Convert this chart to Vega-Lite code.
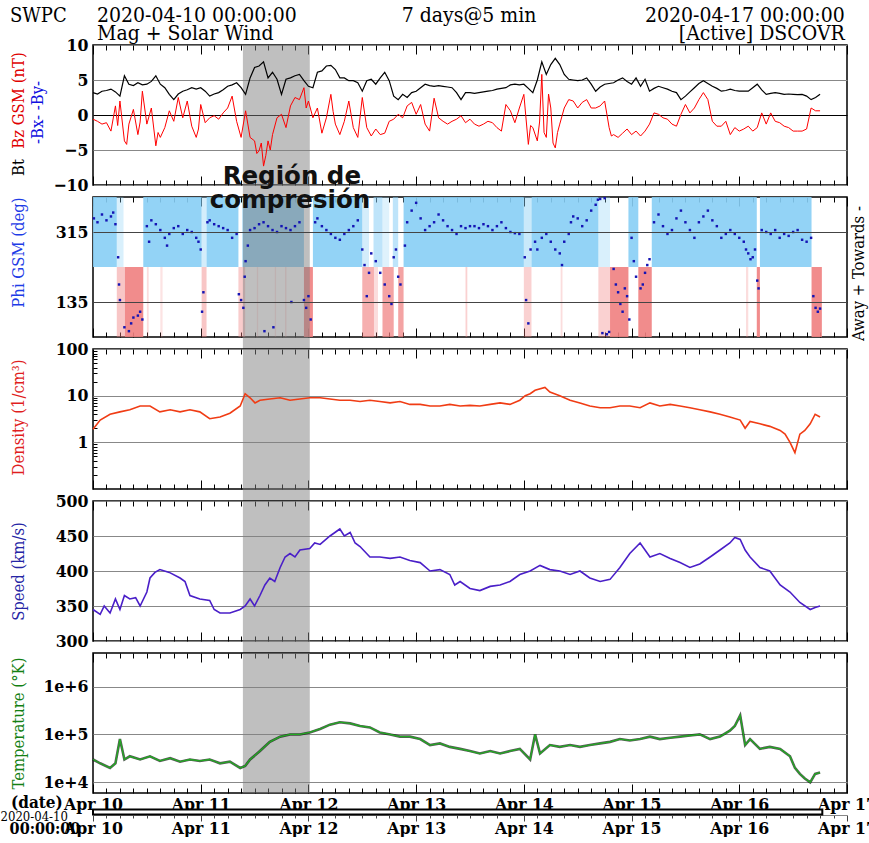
{
"$schema": "https://vega.github.io/schema/vega-lite/v6.json",
"background": "white",
"padding": {"left": 0, "top": 4, "right": 0, "bottom": 0},
"bounds": "flush",
"spacing": 12,
"config": {
 "view": {"stroke": "#000", "strokeWidth": 1.5},
 "axis": {"labelFont": "DejaVu Serif Condensed, DejaVu Serif, serif", "labelFontSize": 17.5, "labelFontWeight": "bold", "labelColor": "#000", "titleFont": "DejaVu Serif Condensed, DejaVu Serif, serif", "titleFontSize": 16.5, "titleFontWeight": "normal", "tickColor": "#000", "gridColor": "#888", "gridWidth": 1},
 "text": {"font": "DejaVu Serif Condensed, DejaVu Serif, serif"}
},
"datasets": {
 "gray": [{"h0": 33.4, "h1": 48.3}],
 "cov": [{"h0": 0, "h1": 162.5}],
 "bt": [{"h":0,"v":3.2},{"h":1,"v":3.0},{"h":2,"v":3.4},{"h":3,"v":3.5},{"h":4,"v":3.7},{"h":5,"v":3.3},{"h":6,"v":2.7},{"h":7,"v":5.6},{"h":8,"v":4.4},{"h":9,"v":4.2},{"h":10,"v":4.6},{"h":11,"v":4.3},{"h":12,"v":4.4},{"h":13,"v":4.8},{"h":14,"v":5.6},{"h":15,"v":4.4},{"h":16,"v":3.9},{"h":17,"v":2.95},{"h":18,"v":2.2},{"h":19,"v":3.0},{"h":20,"v":3.4},{"h":21,"v":3.6},{"h":22,"v":3.9},{"h":23,"v":3.7},{"h":24,"v":3.9},{"h":25,"v":3.4},{"h":26,"v":2.7},{"h":27,"v":3.0},{"h":28,"v":3.2},{"h":29,"v":3.6},{"h":30,"v":4.1},{"h":31,"v":4.3},{"h":32,"v":4.6},{"h":33,"v":3.9},{"h":34,"v":2.95},{"h":35,"v":5.3},{"h":36,"v":6.8},{"h":37,"v":7.0},{"h":38,"v":7.6},{"h":39,"v":5.3},{"h":40,"v":6.1},{"h":41,"v":5.1},{"h":42,"v":2.95},{"h":43,"v":5.1},{"h":44,"v":5.3},{"h":45,"v":5.6},{"h":46,"v":5.8},{"h":47,"v":4.9},{"h":48,"v":4.1},{"h":49,"v":3.9},{"h":50,"v":6.1},{"h":51,"v":6.3},{"h":52,"v":7.0},{"h":53,"v":7.1},{"h":54,"v":6.5},{"h":55,"v":5.3},{"h":56,"v":5.3},{"h":57,"v":4.9},{"h":58,"v":4.9},{"h":59,"v":4.6},{"h":60,"v":3.4},{"h":61,"v":4.9},{"h":62,"v":5.1},{"h":63,"v":4.4},{"h":64,"v":5.3},{"h":65,"v":6.1},{"h":66,"v":4.9},{"h":67,"v":2.7},{"h":68,"v":2.2},{"h":69,"v":2.95},{"h":70,"v":2.5},{"h":71,"v":3.2},{"h":72,"v":3.4},{"h":73,"v":3.9},{"h":74,"v":4.4},{"h":75,"v":4.2},{"h":76,"v":4.1},{"h":77,"v":4.2},{"h":78,"v":4.1},{"h":79,"v":4.0},{"h":80,"v":3.9},{"h":81,"v":3.2},{"h":82,"v":2.2},{"h":83,"v":3.2},{"h":84,"v":3.2},{"h":85,"v":3.1},{"h":86,"v":3.2},{"h":87,"v":3.3},{"h":88,"v":3.4},{"h":89,"v":3.5},{"h":90,"v":3.7},{"h":91,"v":3.8},{"h":92,"v":3.9},{"h":93,"v":4.3},{"h":94,"v":4.4},{"h":95,"v":4.3},{"h":96,"v":4.4},{"h":97,"v":3.8},{"h":98,"v":3.2},{"h":99,"v":5.0},{"h":100,"v":7.6},{"h":101,"v":5.8},{"h":102,"v":7.2},{"h":103,"v":8.1},{"h":104,"v":7.2},{"h":105,"v":5.8},{"h":106,"v":5.1},{"h":107,"v":5.0},{"h":108,"v":4.9},{"h":109,"v":5.0},{"h":110,"v":5.3},{"h":111,"v":4.4},{"h":112,"v":3.4},{"h":113,"v":4.0},{"h":114,"v":4.4},{"h":115,"v":4.5},{"h":116,"v":4.6},{"h":117,"v":5.0},{"h":118,"v":5.3},{"h":119,"v":4.8},{"h":120,"v":4.4},{"h":121,"v":5.3},{"h":122,"v":4.1},{"h":123,"v":5.1},{"h":124,"v":3.4},{"h":125,"v":3.8},{"h":126,"v":4.1},{"h":127,"v":3.9},{"h":128,"v":3.7},{"h":129,"v":3.4},{"h":130,"v":3.2},{"h":131,"v":2.2},{"h":132,"v":2.7},{"h":133,"v":3.3},{"h":134,"v":3.9},{"h":135,"v":4.5},{"h":136,"v":4.9},{"h":137,"v":4.5},{"h":138,"v":4.1},{"h":139,"v":3.8},{"h":140,"v":3.4},{"h":141,"v":3.5},{"h":142,"v":3.7},{"h":143,"v":3.5},{"h":144,"v":3.4},{"h":145,"v":3.4},{"h":146,"v":3.4},{"h":147,"v":3.9},{"h":148,"v":4.4},{"h":149,"v":3.6},{"h":150,"v":2.95},{"h":151,"v":3.1},{"h":152,"v":3.2},{"h":153,"v":3.1},{"h":154,"v":2.95},{"h":155,"v":3.0},{"h":156,"v":2.95},{"h":157,"v":2.9},{"h":158,"v":2.95},{"h":159,"v":2.7},{"h":160,"v":2.2},{"h":161,"v":2.5},{"h":162,"v":2.95}],
 "bz": [{"h":0,"v":-0.6},{"h":1,"v":-0.9},{"h":2,"v":-1.3},{"h":3,"v":-1.1},{"h":4,"v":-2.3},{"h":5,"v":1.3},{"h":5.5,"v":-1.5},{"h":6,"v":2.0},{"h":7,"v":-3.7},{"h":7.5,"v":-4.2},{"h":8,"v":-1.3},{"h":9,"v":0.8},{"h":10,"v":-2.8},{"h":10.5,"v":-1.0},{"h":11,"v":3.4},{"h":12,"v":-1.3},{"h":13,"v":1.0},{"h":14,"v":-4.4},{"h":14.5,"v":-2.5},{"h":15,"v":-3.2},{"h":16,"v":-1.8},{"h":17,"v":0.6},{"h":18,"v":-0.9},{"h":19,"v":2.5},{"h":20,"v":-0.4},{"h":21,"v":2.0},{"h":22,"v":-1.6},{"h":23,"v":-3.2},{"h":23.5,"v":-2.0},{"h":24,"v":1.5},{"h":25,"v":-1.1},{"h":26,"v":-0.4},{"h":27,"v":-0.1},{"h":28,"v":-0.6},{"h":29,"v":0.3},{"h":30,"v":1.0},{"h":31,"v":2.7},{"h":32,"v":-0.9},{"h":33,"v":-3.2},{"h":34,"v":0.6},{"h":35,"v":-3.2},{"h":36,"v":-3.7},{"h":36.5,"v":-5.5},{"h":37,"v":-5.1},{"h":37.5,"v":-4.0},{"h":38,"v":-7.3},{"h":38.5,"v":-5.8},{"h":39,"v":-3.7},{"h":39.5,"v":-5.0},{"h":40,"v":-2.8},{"h":41,"v":-0.4},{"h":42,"v":0.1},{"h":43,"v":-1.8},{"h":44,"v":1.3},{"h":45,"v":2.5},{"h":46,"v":2.2},{"h":47,"v":3.9},{"h":47.5,"v":1.0},{"h":48,"v":2.0},{"h":49,"v":-0.4},{"h":50,"v":1.0},{"h":51,"v":-2.6},{"h":52,"v":-0.4},{"h":53,"v":2.95},{"h":53.5,"v":0.5},{"h":54,"v":-1.3},{"h":55,"v":-2.8},{"h":56,"v":-0.9},{"h":57,"v":2.0},{"h":58,"v":-1.8},{"h":59,"v":-3.2},{"h":60,"v":2.5},{"h":61,"v":-1.8},{"h":62,"v":-3.0},{"h":63,"v":-2.0},{"h":64,"v":-2.8},{"h":65,"v":-2.6},{"h":66,"v":-0.9},{"h":67,"v":-0.6},{"h":68,"v":0.1},{"h":69,"v":-0.4},{"h":70,"v":1.3},{"h":71,"v":1.8},{"h":72,"v":0.1},{"h":73,"v":1.5},{"h":74,"v":-1.3},{"h":75,"v":-2.3},{"h":76,"v":2.4},{"h":77,"v":-0.4},{"h":78,"v":-0.9},{"h":79,"v":-1.3},{"h":80,"v":-0.9},{"h":81,"v":-0.6},{"h":82,"v":-0.1},{"h":83,"v":-1.1},{"h":84,"v":-0.6},{"h":85,"v":-1.3},{"h":86,"v":-1.6},{"h":87,"v":-1.3},{"h":88,"v":-0.9},{"h":89,"v":-1.1},{"h":90,"v":-1.8},{"h":91,"v":-2.3},{"h":92,"v":1.5},{"h":93,"v":0.6},{"h":94,"v":-1.1},{"h":95,"v":1.0},{"h":96,"v":2.95},{"h":97,"v":-4.2},{"h":97.5,"v":-1.5},{"h":98,"v":-1.8},{"h":99,"v":-3.7},{"h":99.5,"v":-1.0},{"h":100,"v":5.8},{"h":100.5,"v":-2.5},{"h":101,"v":-3.2},{"h":101.5,"v":3.0},{"h":102,"v":1.0},{"h":102.5,"v":-4.0},{"h":103,"v":-4.7},{"h":103.5,"v":-2.5},{"h":104,"v":-1.3},{"h":105,"v":1.0},{"h":106,"v":2.2},{"h":107,"v":2.0},{"h":108,"v":1.0},{"h":109,"v":1.8},{"h":110,"v":2.2},{"h":111,"v":1.0},{"h":112,"v":1.0},{"h":113,"v":1.3},{"h":114,"v":2.0},{"h":115,"v":-1.8},{"h":115.5,"v":-3.0},{"h":116,"v":-2.8},{"h":117,"v":-3.2},{"h":118,"v":-2.6},{"h":119,"v":-2.0},{"h":120,"v":-2.8},{"h":121,"v":-2.3},{"h":122,"v":-3.0},{"h":123,"v":-2.3},{"h":124,"v":-1.3},{"h":125,"v":0.3},{"h":126,"v":0.1},{"h":127,"v":-0.4},{"h":128,"v":-0.6},{"h":129,"v":-1.3},{"h":130,"v":-1.6},{"h":131,"v":0.1},{"h":132,"v":1.5},{"h":133,"v":0.3},{"h":134,"v":1.0},{"h":135,"v":2.2},{"h":136,"v":3.2},{"h":137,"v":2.2},{"h":138,"v":-0.9},{"h":139,"v":-1.6},{"h":140,"v":-1.6},{"h":141,"v":-0.9},{"h":142,"v":-2.8},{"h":143,"v":-1.8},{"h":144,"v":-2.3},{"h":145,"v":-2.0},{"h":146,"v":-1.6},{"h":147,"v":-2.3},{"h":148,"v":-1.8},{"h":149,"v":0.3},{"h":150,"v":-1.3},{"h":151,"v":0.3},{"h":152,"v":-0.9},{"h":153,"v":-1.1},{"h":154,"v":-1.6},{"h":155,"v":-1.8},{"h":156,"v":-2.3},{"h":157,"v":-2.3},{"h":158,"v":-2.3},{"h":159,"v":-2.0},{"h":160,"v":1.0},{"h":161,"v":0.6},{"h":162,"v":0.6}],
 "bars": [{"h0":0,"h1":5.3,"d":"A","f":1},{"h0":5.3,"h1":6.8,"d":"A","f":0.35},{"h0":11.2,"h1":24.2,"d":"A","f":1},{"h0":24.2,"h1":25.3,"d":"A","f":0.4},{"h0":25.3,"h1":32.4,"d":"A","f":1},{"h0":33.3,"h1":47.0,"d":"A","f":1},{"h0":49.0,"h1":60.0,"d":"A","f":1},{"h0":60.0,"h1":61.5,"d":"A","f":0.4},{"h0":62.5,"h1":64.5,"d":"A","f":0.6},{"h0":64.5,"h1":66.0,"d":"A","f":0.3},{"h0":66.8,"h1":68.0,"d":"A","f":0.6},{"h0":69.2,"h1":96.0,"d":"A","f":1},{"h0":96.0,"h1":97.7,"d":"A","f":0.5},{"h0":97.7,"h1":112.6,"d":"A","f":1},{"h0":112.6,"h1":115.2,"d":"A","f":0.35},{"h0":119.3,"h1":121.5,"d":"A","f":1},{"h0":124.5,"h1":147.9,"d":"A","f":1},{"h0":148.6,"h1":160.1,"d":"A","f":1},
  {"h0":5.3,"h1":7.1,"d":"T","f":0.5},{"h0":7.1,"h1":11.2,"d":"T","f":1},{"h0":12.0,"h1":12.4,"d":"T","f":0.3},{"h0":15.0,"h1":15.5,"d":"T","f":0.25},{"h0":24.2,"h1":25.3,"d":"T","f":0.5},{"h0":32.4,"h1":33.9,"d":"T","f":0.45},{"h0":36.5,"h1":36.8,"d":"T","f":0.25},{"h0":40.5,"h1":40.8,"d":"T","f":0.25},{"h0":42.8,"h1":43.1,"d":"T","f":0.3},{"h0":47.0,"h1":49.0,"d":"T","f":1},{"h0":60.0,"h1":62.6,"d":"T","f":0.7},{"h0":62.6,"h1":63.5,"d":"T","f":0.3},{"h0":64.5,"h1":67.0,"d":"T","f":0.8},{"h0":68.0,"h1":69.2,"d":"T","f":0.8},{"h0":83.0,"h1":83.4,"d":"T","f":0.4},{"h0":96.0,"h1":97.7,"d":"T","f":0.4},{"h0":104.2,"h1":104.6,"d":"T","f":0.3},{"h0":112.6,"h1":115.2,"d":"T","f":0.4},{"h0":115.2,"h1":119.3,"d":"T","f":1},{"h0":121.5,"h1":124.5,"d":"T","f":1},{"h0":145.5,"h1":146.0,"d":"T","f":0.3},{"h0":147.9,"h1":148.6,"d":"T","f":1},{"h0":160.1,"h1":162.4,"d":"T","f":1}],
 "phi": [{"h":0.2,"p":350},{"h":1,"p":340},{"h":2,"p":360},{"h":3,"p":345},{"h":4,"p":355},{"h":4.5,"p":365},{"h":5,"p":335},{"h":5.6,"p":250},{"h":5.8,"p":180},{"h":6,"p":140},{"h":7,"p":70},{"h":8,"p":60},{"h":8.5,"p":80},{"h":9,"p":95},{"h":10,"p":100},{"h":10.5,"p":110},{"h":11,"p":90},{"h":12,"p":330},{"h":12.5,"p":290},{"h":13,"p":345},{"h":14,"p":335},{"h":15,"p":320},{"h":16,"p":300},{"h":16.5,"p":280},{"h":17,"p":310},{"h":18,"p":325},{"h":19,"p":330},{"h":20,"p":310},{"h":21,"p":320},{"h":22,"p":315},{"h":23,"p":300},{"h":23.5,"p":290},{"h":24,"p":270},{"h":24.3,"p":110},{"h":24.6,"p":160},{"h":25.5,"p":340},{"h":26,"p":345},{"h":27,"p":335},{"h":28,"p":330},{"h":29,"p":325},{"h":30,"p":320},{"h":31,"p":300},{"h":32,"p":310},{"h":32.5,"p":155},{"h":33,"p":140},{"h":33.5,"p":120},{"h":33.8,"p":200},{"h":34,"p":240},{"h":34.5,"p":280},{"h":35,"p":320},{"h":36,"p":325},{"h":37,"p":335},{"h":38,"p":340},{"h":39,"p":330},{"h":40,"p":320},{"h":41,"p":315},{"h":42,"p":330},{"h":43,"p":325},{"h":44,"p":320},{"h":45,"p":330},{"h":46,"p":340},{"h":38.2,"p":60},{"h":40.2,"p":70},{"h":44.2,"p":135},{"h":47,"p":140},{"h":47.5,"p":120},{"h":48,"p":150},{"h":48.5,"p":90},{"h":49.5,"p":340},{"h":50,"p":350},{"h":51,"p":330},{"h":52,"p":320},{"h":53,"p":310},{"h":54,"p":300},{"h":55,"p":295},{"h":56,"p":310},{"h":57,"p":320},{"h":58,"p":330},{"h":59,"p":345},{"h":60,"p":270},{"h":60.5,"p":230},{"h":61,"p":150},{"h":61.5,"p":210},{"h":62,"p":260},{"h":63,"p":240},{"h":64,"p":210},{"h":65,"p":180},{"h":66,"p":150},{"h":66.5,"p":130},{"h":67,"p":250},{"h":67.5,"p":270},{"h":68,"p":200},{"h":68.5,"p":180},{"h":69.5,"p":280},{"h":70,"p":340},{"h":71,"p":370},{"h":72,"p":390},{"h":73,"p":350},{"h":74,"p":320},{"h":75,"p":330},{"h":76,"p":340},{"h":77,"p":360},{"h":78,"p":345},{"h":79,"p":330},{"h":80,"p":320},{"h":81,"p":310},{"h":82,"p":330},{"h":83,"p":325},{"h":84,"p":330},{"h":85,"p":330},{"h":86,"p":325},{"h":87,"p":335},{"h":88,"p":330},{"h":89,"p":320},{"h":90,"p":330},{"h":91,"p":340},{"h":92,"p":325},{"h":93,"p":315},{"h":94,"p":312},{"h":95,"p":310},{"h":96.2,"p":250},{"h":96.5,"p":140},{"h":97,"p":80},{"h":97.5,"p":270},{"h":98.5,"p":290},{"h":99,"p":270},{"h":100,"p":300},{"h":101,"p":310},{"h":102,"p":290},{"h":103,"p":270},{"h":104,"p":260},{"h":104.5,"p":230},{"h":105,"p":290},{"h":106,"p":310},{"h":106.5,"p":340},{"h":107,"p":355},{"h":108,"p":350},{"h":109,"p":330},{"h":110,"p":345},{"h":111,"p":370},{"h":112,"p":385},{"h":112.5,"p":398},{"h":113,"p":400},{"h":114,"p":402},{"h":113.5,"p":55},{"h":114.5,"p":52},{"h":115,"p":58},{"h":116,"p":220},{"h":116.5,"p":180},{"h":117,"p":160},{"h":117.5,"p":130},{"h":118,"p":110},{"h":118.5,"p":170},{"h":119,"p":150},{"h":119.5,"p":90},{"h":120,"p":300},{"h":120.5,"p":240},{"h":121,"p":200},{"h":122,"p":170},{"h":122.5,"p":180},{"h":123,"p":210},{"h":123.5,"p":230},{"h":124,"p":245},{"h":125,"p":340},{"h":126,"p":360},{"h":127,"p":330},{"h":128,"p":310},{"h":129,"p":320},{"h":130,"p":350},{"h":131,"p":370},{"h":132,"p":340},{"h":133,"p":320},{"h":134,"p":300},{"h":135,"p":340},{"h":136,"p":355},{"h":137,"p":370},{"h":138,"p":345},{"h":139,"p":330},{"h":140,"p":300},{"h":141,"p":310},{"h":142,"p":320},{"h":143,"p":310},{"h":144,"p":300},{"h":145,"p":290},{"h":145.5,"p":270},{"h":146,"p":260},{"h":146.5,"p":245},{"h":147,"p":250},{"h":147.5,"p":270},{"h":148,"p":190},{"h":148.3,"p":170},{"h":149,"p":320},{"h":150,"p":315},{"h":151,"p":310},{"h":152,"p":320},{"h":153,"p":300},{"h":154,"p":310},{"h":155,"p":305},{"h":156,"p":315},{"h":157,"p":320},{"h":158,"p":295},{"h":159,"p":290},{"h":160,"p":300},{"h":160.5,"p":150},{"h":161,"p":120},{"h":161.5,"p":110},{"h":162,"p":118}],
 "den": [{"h":0,"n":1.9},{"h":1.6,"n":3.0},{"h":3.8,"n":4.0},{"h":6,"n":4.5},{"h":8.2,"n":5},{"h":10.5,"n":6},{"h":12.7,"n":6},{"h":14.9,"n":4.5},{"h":17.2,"n":5},{"h":19.4,"n":4.5},{"h":21.6,"n":5},{"h":23.8,"n":4.5},{"h":26,"n":3.2},{"h":28.3,"n":3.5},{"h":30.5,"n":4.2},{"h":32.8,"n":6},{"h":33.9,"n":11},{"h":35,"n":9},{"h":36.1,"n":7},{"h":37.2,"n":8},{"h":39.4,"n":8.5},{"h":41.7,"n":9},{"h":43.9,"n":8},{"h":46.1,"n":8.5},{"h":48.3,"n":9},{"h":50.6,"n":9},{"h":52.8,"n":8.5},{"h":55,"n":8},{"h":57.3,"n":8},{"h":59.5,"n":7.5},{"h":61.7,"n":8},{"h":63.9,"n":7.5},{"h":66.2,"n":7},{"h":68.4,"n":7.5},{"h":70.6,"n":6.5},{"h":72.9,"n":6.5},{"h":75.1,"n":6},{"h":77.3,"n":6},{"h":79.5,"n":6.5},{"h":81.8,"n":6},{"h":84,"n":6.2},{"h":86.2,"n":6},{"h":88.5,"n":6.5},{"h":90.7,"n":7},{"h":92.9,"n":6.5},{"h":95.1,"n":8},{"h":96.3,"n":10},{"h":97.4,"n":11},{"h":98.5,"n":13},{"h":100.7,"n":15},{"h":101.8,"n":12},{"h":104,"n":10},{"h":106.3,"n":8},{"h":108.5,"n":7},{"h":110.7,"n":6},{"h":113,"n":5.5},{"h":115.2,"n":5.5},{"h":117.4,"n":6},{"h":119.6,"n":6},{"h":121.9,"n":5.5},{"h":124.1,"n":7},{"h":126.3,"n":6},{"h":128.6,"n":6.5},{"h":130.8,"n":6},{"h":133,"n":5.5},{"h":135.2,"n":5},{"h":137.5,"n":4.5},{"h":139.7,"n":4},{"h":141.9,"n":3.5},{"h":144.2,"n":3.0},{"h":145.3,"n":2.0},{"h":146.4,"n":2.8},{"h":148.6,"n":2.5},{"h":150.8,"n":2.2},{"h":153.1,"n":1.8},{"h":154.2,"n":1.5},{"h":155.3,"n":1.0},{"h":156.4,"n":0.6},{"h":157.5,"n":1.5},{"h":158.6,"n":1.8},{"h":159.8,"n":2.5},{"h":160.9,"n":4},{"h":162,"n":3.5}],
 "spd": [{"h":0,"v":345},{"h":1.6,"v":338},{"h":2.5,"v":350},{"h":3.8,"v":340},{"h":5,"v":360},{"h":6,"v":345},{"h":7,"v":365},{"h":8.2,"v":360},{"h":9.5,"v":362},{"h":10.5,"v":350},{"h":12,"v":370},{"h":12.7,"v":390},{"h":13.8,"v":398},{"h":14.9,"v":402},{"h":17,"v":398},{"h":19.4,"v":390},{"h":20.5,"v":385},{"h":21.6,"v":365},{"h":23.8,"v":360},{"h":26,"v":358},{"h":27,"v":345},{"h":28.3,"v":340},{"h":30.5,"v":340},{"h":32.8,"v":345},{"h":33.9,"v":350},{"h":35,"v":360},{"h":36,"v":350},{"h":37.2,"v":365},{"h":38.3,"v":380},{"h":39.4,"v":390},{"h":40.5,"v":385},{"h":41.7,"v":405},{"h":42.8,"v":420},{"h":43.9,"v":425},{"h":45,"v":420},{"h":46.1,"v":430},{"h":48.3,"v":432},{"h":49.4,"v":440},{"h":50.6,"v":438},{"h":52.8,"v":450},{"h":53.9,"v":455},{"h":55,"v":460},{"h":56,"v":450},{"h":57.3,"v":455},{"h":58.4,"v":440},{"h":59.5,"v":435},{"h":61.7,"v":420},{"h":63.9,"v":420},{"h":66.2,"v":418},{"h":68.4,"v":420},{"h":70.6,"v":415},{"h":72.9,"v":412},{"h":75.1,"v":400},{"h":77.3,"v":402},{"h":79.5,"v":395},{"h":80.6,"v":380},{"h":81.8,"v":385},{"h":84,"v":375},{"h":86.2,"v":372},{"h":88.5,"v":378},{"h":90.7,"v":380},{"h":92.9,"v":385},{"h":95.1,"v":395},{"h":97.4,"v":400},{"h":99.6,"v":408},{"h":101.8,"v":402},{"h":104,"v":400},{"h":106.3,"v":395},{"h":108.5,"v":400},{"h":110.7,"v":390},{"h":113,"v":385},{"h":115.2,"v":388},{"h":117.4,"v":405},{"h":119.6,"v":425},{"h":121.9,"v":440},{"h":124.1,"v":420},{"h":126.3,"v":425},{"h":128.6,"v":418},{"h":130.8,"v":412},{"h":133,"v":405},{"h":135.2,"v":410},{"h":137.5,"v":420},{"h":139.7,"v":430},{"h":141.9,"v":440},{"h":143,"v":448},{"h":144.2,"v":445},{"h":145.3,"v":430},{"h":146.4,"v":420},{"h":148.6,"v":405},{"h":150.8,"v":400},{"h":153.1,"v":380},{"h":155.3,"v":370},{"h":157.5,"v":355},{"h":159.8,"v":345},{"h":160.9,"v":348},{"h":162,"v":350}],
 "tmp": [{"h":0,"T":30000},{"h":1.6,"T":25000},{"h":3.8,"T":20000},{"h":5,"T":25000},{"h":6,"T":80000},{"h":7,"T":30000},{"h":8.2,"T":35000},{"h":10.5,"T":30000},{"h":12.7,"T":35000},{"h":14.9,"T":28000},{"h":17.2,"T":32000},{"h":19.4,"T":27000},{"h":21.6,"T":30000},{"h":23.8,"T":28000},{"h":26,"T":30000},{"h":28.3,"T":25000},{"h":30.5,"T":27000},{"h":32.8,"T":20000},{"h":33.9,"T":22000},{"h":35,"T":30000},{"h":37.2,"T":45000},{"h":39.4,"T":70000},{"h":41.7,"T":90000},{"h":43.9,"T":100000},{"h":46.1,"T":100000},{"h":48.3,"T":110000},{"h":50.6,"T":130000},{"h":52.8,"T":160000},{"h":55,"T":180000},{"h":57.3,"T":170000},{"h":59.5,"T":150000},{"h":61.7,"T":140000},{"h":63.9,"T":110000},{"h":66.2,"T":100000},{"h":68.4,"T":90000},{"h":70.6,"T":90000},{"h":72.9,"T":80000},{"h":75.1,"T":60000},{"h":77.3,"T":65000},{"h":79.5,"T":55000},{"h":81.8,"T":50000},{"h":84,"T":45000},{"h":86.2,"T":40000},{"h":88.5,"T":45000},{"h":90.7,"T":40000},{"h":92.9,"T":45000},{"h":95.1,"T":50000},{"h":97.4,"T":30000},{"h":98.5,"T":100000},{"h":99.6,"T":40000},{"h":101.8,"T":60000},{"h":104,"T":55000},{"h":106.3,"T":60000},{"h":108.5,"T":55000},{"h":110.7,"T":60000},{"h":113,"T":65000},{"h":115.2,"T":70000},{"h":117.4,"T":80000},{"h":119.6,"T":75000},{"h":121.9,"T":80000},{"h":124.1,"T":90000},{"h":126.3,"T":80000},{"h":128.6,"T":85000},{"h":130.8,"T":90000},{"h":133,"T":95000},{"h":135.2,"T":100000},{"h":137.5,"T":80000},{"h":139.7,"T":90000},{"h":141.9,"T":120000},{"h":143,"T":150000},{"h":144.2,"T":250000},{"h":145.3,"T":60000},{"h":146.4,"T":80000},{"h":148.6,"T":50000},{"h":150.8,"T":55000},{"h":153.1,"T":50000},{"h":155.3,"T":35000},{"h":156.4,"T":20000},{"h":157.5,"T":15000},{"h":158.6,"T":12000},{"h":159.8,"T":10000},{"h":160.9,"T":15000},{"h":162,"T":16000}]
},
"vconcat": [
{"width": 754, "height": 140,
 "layer": [
  {"data": {"name": "gray"}, "mark": {"type": "rect", "color": "#808080", "opacity": 0.5},
   "encoding": {"x": {"field": "h0", "type": "quantitative", "scale": {"domain": [0, 168], "nice": false, "zero": false}, "axis": {"orient": "bottom", "values": [0,3,6,9,12,15,18,21,24,27,30,33,36,39,42,45,48,51,54,57,60,63,66,69,72,75,78,81,84,87,90,93,96,99,102,105,108,111,114,117,120,123,126,129,132,135,138,141,144,147,150,153,156,159,162,165,168], "labels": false, "domain": false, "grid": false, "tickSize": {"condition": {"test": "datum.value % 24 === 0", "value": -9}, "value": -5}, "title": null}}, "x2": {"field": "h1"},
    "y": {"datum": 10, "type": "quantitative", "scale": {"domain": [-10, 10], "nice": false, "zero": false}, "axis": null}, "y2": {"datum": -11.71}}},
  {"data": {"name": "bt"}, "mark": {"type": "line", "color": "#000", "strokeWidth": 1.2},
   "encoding": {"x": {"field": "h", "type": "quantitative", "scale": {"domain": [0, 168], "nice": false, "zero": false}, "axis": {"orient": "top", "values": [0,3,6,9,12,15,18,21,24,27,30,33,36,39,42,45,48,51,54,57,60,63,66,69,72,75,78,81,84,87,90,93,96,99,102,105,108,111,114,117,120,123,126,129,132,135,138,141,144,147,150,153,156,159,162,165,168], "labels": false, "domain": false, "grid": false, "tickSize": {"condition": {"test": "datum.value % 24 === 0", "value": -9}, "value": -5}, "title": null}},
    "y": {"field": "v", "type": "quantitative", "scale": {"domain": [-10, 10], "nice": false, "zero": false}, "axis": {"orient": "left", "labels": false, "ticks": false, "domain": false, "grid": false, "title": "Bt", "titleColor": "#000", "titleX": -75, "titleY": 122, "titleAngle": 270, "titleAlign": "center", "titleBaseline": "middle"}}}},
  {"data": {"name": "bz"}, "mark": {"type": "line", "color": "#FF0000", "strokeWidth": 1},
   "encoding": {"x": {"field": "h", "type": "quantitative", "scale": {"domain": [0, 168], "nice": false, "zero": false}, "axis": null},
    "y": {"field": "v", "type": "quantitative", "scale": {"domain": [-10, 10], "nice": false, "zero": false}, "axis": {"orient": "left", "values": [-10, -5, 0, 5, 10], "ticks": false, "domain": false, "grid": true, "gridColor": {"condition": {"test": "datum.value === 0", "value": "#000"}, "value": "#888"}, "labelPadding": 5, "title": "Bz GSM (nT)", "titleColor": "#E00000", "titleX": -75, "titleY": 55, "titleAngle": 270, "titleAlign": "center", "titleBaseline": "middle"}}}},
  {"data": {"values": [{}]}, "mark": {"type": "text", "text": "SWPC", "align": "left", "baseline": "middle", "fontSize": 20, "color": "#000"},
   "encoding": {"x": {"datum": -18.5, "type": "quantitative", "scale": {"domain": [0, 168], "nice": false, "zero": false}, "axis": null}, "y": {"datum": 14.1, "type": "quantitative", "scale": {"domain": [-10, 10], "nice": false, "zero": false}, "axis": {"orient": "left", "labels": false, "ticks": false, "domain": false, "grid": false, "title": "-Bx- -By-", "titleColor": "#1010E0", "titleX": -56, "titleY": 67, "titleAngle": 270, "titleAlign": "center", "titleBaseline": "middle"}}}},
  {"data": {"values": [{}]}, "mark": {"type": "text", "text": "2020-04-10 00:00:00", "align": "left", "baseline": "middle", "fontSize": 21, "color": "#000"},
   "encoding": {"x": {"datum": 0.9, "type": "quantitative", "scale": {"domain": [0, 168], "nice": false, "zero": false}, "axis": null}, "y": {"datum": 14.1, "type": "quantitative", "scale": {"domain": [-10, 10], "nice": false, "zero": false}, "axis": null}}},
  {"data": {"values": [{}]}, "mark": {"type": "text", "text": "7 days@5 min", "align": "center", "baseline": "middle", "fontSize": 21, "color": "#000"},
   "encoding": {"x": {"datum": 83.8, "type": "quantitative", "scale": {"domain": [0, 168], "nice": false, "zero": false}, "axis": null}, "y": {"datum": 14.1, "type": "quantitative", "scale": {"domain": [-10, 10], "nice": false, "zero": false}, "axis": null}}},
  {"data": {"values": [{}]}, "mark": {"type": "text", "text": "2020-04-17 00:00:00", "align": "right", "baseline": "middle", "fontSize": 21, "color": "#000"},
   "encoding": {"x": {"datum": 167.5, "type": "quantitative", "scale": {"domain": [0, 168], "nice": false, "zero": false}, "axis": null}, "y": {"datum": 14.1, "type": "quantitative", "scale": {"domain": [-10, 10], "nice": false, "zero": false}, "axis": null}}},
  {"data": {"values": [{}]}, "mark": {"type": "text", "text": "Mag + Solar Wind", "align": "left", "baseline": "middle", "fontSize": 21, "color": "#000"},
   "encoding": {"x": {"datum": 0.9, "type": "quantitative", "scale": {"domain": [0, 168], "nice": false, "zero": false}, "axis": null}, "y": {"datum": 11.6, "type": "quantitative", "scale": {"domain": [-10, 10], "nice": false, "zero": false}, "axis": null}}},
  {"data": {"values": [{}]}, "mark": {"type": "text", "text": "[Active] DSCOVR", "align": "right", "baseline": "middle", "fontSize": 21, "color": "#000"},
   "encoding": {"x": {"datum": 167.5, "type": "quantitative", "scale": {"domain": [0, 168], "nice": false, "zero": false}, "axis": null}, "y": {"datum": 11.6, "type": "quantitative", "scale": {"domain": [-10, 10], "nice": false, "zero": false}, "axis": null}}},
  {"data": {"values": [{}]}, "mark": {"type": "text", "text": "Región de", "align": "center", "baseline": "middle", "fontSize": 24.5, "fontWeight": "bold", "font": "DejaVu Sans", "color": "#111"},
   "encoding": {"x": {"datum": 44.3, "type": "quantitative", "scale": {"domain": [0, 168], "nice": false, "zero": false}, "axis": null}, "y": {"datum": -8.86, "type": "quantitative", "scale": {"domain": [-10, 10], "nice": false, "zero": false}, "axis": null}}}
 ],
 "resolve": {"axis": {"x": "independent", "y": "independent"}}
},
{"width": 754, "height": 140,
 "layer": [
  {"data": {"name": "bars"}, "transform": [{"filter": "datum.d === 'A'"}], "mark": {"type": "rect", "color": "#87CEF5"},
   "encoding": {"x": {"field": "h0", "type": "quantitative", "scale": {"domain": [0, 168], "nice": false, "zero": false}, "axis": {"orient": "bottom", "values": [0,3,6,9,12,15,18,21,24,27,30,33,36,39,42,45,48,51,54,57,60,63,66,69,72,75,78,81,84,87,90,93,96,99,102,105,108,111,114,117,120,123,126,129,132,135,138,141,144,147,150,153,156,159,162,165,168], "labels": false, "domain": false, "grid": false, "tickSize": {"condition": {"test": "datum.value % 24 === 0", "value": -9}, "value": -5}, "title": null}}, "x2": {"field": "h1"},
    "y": {"datum": 225, "type": "quantitative", "scale": {"domain": [45, 405], "nice": false, "zero": false}, "axis": null}, "y2": {"datum": 405},
    "opacity": {"field": "f", "type": "quantitative", "scale": {"domain": [0, 1], "range": [0, 0.9]}, "legend": null}}},
  {"data": {"name": "bars"}, "transform": [{"filter": "datum.d === 'T'"}], "mark": {"type": "rect", "color": "#F08080"},
   "encoding": {"x": {"field": "h0", "type": "quantitative", "scale": {"domain": [0, 168], "nice": false, "zero": false}, "axis": {"orient": "top", "values": [0,3,6,9,12,15,18,21,24,27,30,33,36,39,42,45,48,51,54,57,60,63,66,69,72,75,78,81,84,87,90,93,96,99,102,105,108,111,114,117,120,123,126,129,132,135,138,141,144,147,150,153,156,159,162,165,168], "labels": false, "domain": false, "grid": false, "tickSize": {"condition": {"test": "datum.value % 24 === 0", "value": -9}, "value": -5}, "title": null}}, "x2": {"field": "h1"},
    "y": {"datum": 45, "type": "quantitative", "scale": {"domain": [45, 405], "nice": false, "zero": false}, "axis": {"orient": "right", "values": [135, 315], "labels": false, "domain": false, "grid": false, "tickSize": -6, "title": "Away + Towards -", "titleColor": "#000", "titleX": 11, "titleY": 76, "titleAngle": 270, "titleAlign": "center", "titleBaseline": "middle"}}, "y2": {"datum": 225},
    "opacity": {"field": "f", "type": "quantitative", "scale": {"domain": [0, 1], "range": [0, 0.9]}, "legend": null}}},
  {"data": {"name": "gray"}, "mark": {"type": "rect", "color": "#808080", "opacity": 0.5},
   "encoding": {"x": {"field": "h0", "type": "quantitative", "scale": {"domain": [0, 168], "nice": false, "zero": false}, "axis": null}, "x2": {"field": "h1"},
    "y": {"datum": 405, "type": "quantitative", "scale": {"domain": [45, 405], "nice": false, "zero": false}, "axis": null}, "y2": {"datum": 14.14}}},
  {"data": {"name": "phi"}, "mark": {"type": "square", "filled": true, "size": 6, "color": "#1414B4", "opacity": 1},
   "encoding": {"x": {"field": "h", "type": "quantitative", "scale": {"domain": [0, 168], "nice": false, "zero": false}, "axis": null},
    "y": {"field": "p", "type": "quantitative", "scale": {"domain": [45, 405], "nice": false, "zero": false}, "axis": {"orient": "left", "values": [135, 315], "ticks": false, "domain": false, "grid": true, "gridColor": "#444", "zindex": 1, "labelPadding": 5, "title": "Phi GSM (deg)", "titleColor": "#1E3CE6", "titleX": -75, "titleY": 55, "titleAngle": 270, "titleAlign": "center", "titleBaseline": "middle"}}}},
  {"data": {"values": [{}]}, "mark": {"type": "text", "text": "compresión", "align": "center", "baseline": "middle", "fontSize": 24.5, "fontWeight": "bold", "font": "DejaVu Sans", "color": "#111"},
   "encoding": {"x": {"datum": 43.9, "type": "quantitative", "scale": {"domain": [0, 168], "nice": false, "zero": false}, "axis": null}, "y": {"datum": 395, "type": "quantitative", "scale": {"domain": [45, 405], "nice": false, "zero": false}, "axis": null}}}
 ],
 "resolve": {"axis": {"x": "independent", "y": "independent"}}
},
{"width": 754, "height": 140,
 "layer": [
  {"data": {"name": "gray"}, "mark": {"type": "rect", "color": "#808080", "opacity": 0.5},
   "encoding": {"x": {"field": "h0", "type": "quantitative", "scale": {"domain": [0, 168], "nice": false, "zero": false}, "axis": {"orient": "bottom", "values": [0,3,6,9,12,15,18,21,24,27,30,33,36,39,42,45,48,51,54,57,60,63,66,69,72,75,78,81,84,87,90,93,96,99,102,105,108,111,114,117,120,123,126,129,132,135,138,141,144,147,150,153,156,159,162,165,168], "labels": false, "domain": false, "grid": false, "tickSize": {"condition": {"test": "datum.value % 24 === 0", "value": -9}, "value": -5}, "title": null}}, "x2": {"field": "h1"},
    "y": {"datum": 100, "type": "quantitative", "scale": {"type": "log", "domain": [0.1, 100], "nice": false}, "axis": {"orient": "left", "values": [0.2,0.3,0.4,0.5,0.6,0.7,0.8,0.9,2,3,4,5,6,7,8,9,20,30,40,50,60,70,80,90], "labels": false, "domain": false, "grid": false, "tickSize": -4, "title": null}}, "y2": {"datum": 0.05534}}},
  {"data": {"name": "den"}, "mark": {"type": "line", "color": "#F03C14", "strokeWidth": 1.6},
   "encoding": {"x": {"field": "h", "type": "quantitative", "scale": {"domain": [0, 168], "nice": false, "zero": false}, "axis": {"orient": "top", "values": [0,3,6,9,12,15,18,21,24,27,30,33,36,39,42,45,48,51,54,57,60,63,66,69,72,75,78,81,84,87,90,93,96,99,102,105,108,111,114,117,120,123,126,129,132,135,138,141,144,147,150,153,156,159,162,165,168], "labels": false, "domain": false, "grid": false, "tickSize": {"condition": {"test": "datum.value % 24 === 0", "value": -9}, "value": -5}, "title": null}},
    "y": {"field": "n", "type": "quantitative", "scale": {"type": "log", "domain": [0.1, 100], "nice": false}, "axis": {"orient": "left", "values": [1, 10, 100], "labelExpr": "datum.value >= 99 ? '100' : datum.value >= 9 ? '10' : '1'", "ticks": false, "domain": false, "grid": true, "labelPadding": 5, "title": "Density (1/cm³)", "titleColor": "#E01E1E", "titleX": -75, "titleY": 68, "titleAngle": 270, "titleAlign": "center", "titleBaseline": "middle"}}}}
 ],
 "resolve": {"axis": {"x": "independent", "y": "independent"}}
},
{"width": 754, "height": 140,
 "layer": [
  {"data": {"name": "gray"}, "mark": {"type": "rect", "color": "#808080", "opacity": 0.5},
   "encoding": {"x": {"field": "h0", "type": "quantitative", "scale": {"domain": [0, 168], "nice": false, "zero": false}, "axis": {"orient": "bottom", "values": [0,3,6,9,12,15,18,21,24,27,30,33,36,39,42,45,48,51,54,57,60,63,66,69,72,75,78,81,84,87,90,93,96,99,102,105,108,111,114,117,120,123,126,129,132,135,138,141,144,147,150,153,156,159,162,165,168], "labels": false, "domain": false, "grid": false, "tickSize": {"condition": {"test": "datum.value % 24 === 0", "value": -9}, "value": -5}, "title": null}}, "x2": {"field": "h1"},
    "y": {"datum": 500, "type": "quantitative", "scale": {"domain": [300, 500], "nice": false, "zero": false}, "axis": null}, "y2": {"datum": 282.86}}},
  {"data": {"name": "spd"}, "mark": {"type": "line", "color": "#4A1FC8", "strokeWidth": 1.6},
   "encoding": {"x": {"field": "h", "type": "quantitative", "scale": {"domain": [0, 168], "nice": false, "zero": false}, "axis": {"orient": "top", "values": [0,3,6,9,12,15,18,21,24,27,30,33,36,39,42,45,48,51,54,57,60,63,66,69,72,75,78,81,84,87,90,93,96,99,102,105,108,111,114,117,120,123,126,129,132,135,138,141,144,147,150,153,156,159,162,165,168], "labels": false, "domain": false, "grid": false, "tickSize": {"condition": {"test": "datum.value % 24 === 0", "value": -9}, "value": -5}, "title": null}},
    "y": {"field": "v", "type": "quantitative", "scale": {"domain": [300, 500], "nice": false, "zero": false}, "axis": {"orient": "left", "values": [300, 350, 400, 450, 500], "ticks": false, "domain": false, "grid": true, "labelPadding": 5, "title": "Speed (km/s)", "titleColor": "#2525A5", "titleX": -75, "titleY": 70, "titleAngle": 270, "titleAlign": "center", "titleBaseline": "middle"}}}}
 ],
 "resolve": {"axis": {"x": "independent", "y": "independent"}}
},
{"width": 754, "height": 140,
 "layer": [
  {"data": {"name": "gray"}, "mark": {"type": "rect", "color": "#808080", "opacity": 0.5},
   "encoding": {"x": {"field": "h0", "type": "quantitative", "scale": {"domain": [0, 168], "nice": false, "zero": false}, "axis": {"orient": "bottom", "values": [0,3,6,9,12,15,18,21,24,27,30,33,36,39,42,45,48,51,54,57,60,63,66,69,72,75,78,81,84,87,90,93,96,99,102,105,108,111,114,117,120,123,126,129,132,135,138,141,144,147,150,153,156,159,162,165,168], "labels": false, "domain": false, "grid": false, "tickSize": {"condition": {"test": "datum.value % 24 === 0", "value": -9}, "value": -5}, "title": null}}, "x2": {"field": "h1"},
    "y": {"datum": 5000000, "type": "quantitative", "scale": {"type": "log", "domain": [6000, 5000000], "nice": false}, "axis": null}, "y2": {"datum": 6000}}},
  {"data": {"name": "tmp"}, "mark": {"type": "line", "color": "#000", "strokeWidth": 2.6, "opacity": 0.65},
   "encoding": {"x": {"field": "h", "type": "quantitative", "scale": {"domain": [0, 168], "nice": false, "zero": false}, "axis": {"orient": "top", "values": [0,3,6,9,12,15,18,21,24,27,30,33,36,39,42,45,48,51,54,57,60,63,66,69,72,75,78,81,84,87,90,93,96,99,102,105,108,111,114,117,120,123,126,129,132,135,138,141,144,147,150,153,156,159,162,165,168], "labels": false, "domain": false, "grid": false, "tickSize": {"condition": {"test": "datum.value % 24 === 0", "value": -9}, "value": -5}, "title": null}},
    "y": {"field": "T", "type": "quantitative", "scale": {"type": "log", "domain": [6000, 5000000], "nice": false}, "axis": {"orient": "left", "values": [10000, 100000, 1000000], "labelExpr": "datum.value >= 900000 ? '1e+6' : datum.value >= 90000 ? '1e+5' : '1e+4'", "ticks": false, "domain": false, "grid": true, "labelPadding": 5, "title": "Temperature (°K)", "titleColor": "#138013", "titleX": -75, "titleY": 70, "titleAngle": 270, "titleAlign": "center", "titleBaseline": "middle"}}}},
  {"data": {"name": "tmp"}, "mark": {"type": "line", "color": "#22AA22", "strokeWidth": 1.3},
   "encoding": {"x": {"field": "h", "type": "quantitative", "scale": {"domain": [0, 168], "nice": false, "zero": false}, "axis": {"orient": "bottom", "values": [0, 24, 48, 72, 96, 120, 144, 168], "ticks": false, "domain": false, "grid": false, "labelExpr": "'Apr ' + (10 + datum.value / 24)", "labelFlush": false, "labelOverlap": false, "labelPadding": 2, "title": null}},
    "y": {"field": "T", "type": "quantitative", "scale": {"type": "log", "domain": [6000, 5000000], "nice": false}, "axis": null}}}
 ],
 "resolve": {"axis": {"x": "independent", "y": "independent"}}
},
{"width": 754, "height": 10, "view": {"stroke": null},
 "layer": [
  {"data": {"name": "cov"}, "mark": {"type": "rect", "fill": "white", "stroke": "#000", "strokeWidth": 2},
   "encoding": {"x": {"field": "h0", "type": "quantitative", "scale": {"domain": [0, 168], "nice": false, "zero": false}, "axis": {"orient": "bottom", "values": [0,3,6,9,12,15,18,21,24,27,30,33,36,39,42,45,48,51,54,57,60,63,66,69,72,75,78,81,84,87,90,93,96,99,102,105,108,111,114,117,120,123,126,129,132,135,138,141,144,147,150,153,156,159,162,165,168], "labels": false, "domain": true, "domainColor": "#888", "grid": false, "tickColor": "#444", "tickSize": {"condition": {"test": "datum.value % 24 === 0", "value": 6}, "value": 3}, "title": null}}, "x2": {"field": "h1"},
    "y": {"datum": 0.55, "type": "quantitative", "scale": {"domain": [0, 1], "nice": false, "zero": false}, "axis": null}, "y2": {"datum": 0.05}}},
  {"data": {"values": [{}]}, "mark": {"type": "text", "text": "(date)", "align": "center", "baseline": "middle", "fontSize": 17, "fontWeight": "bold", "dy": -7, "color": "#000"},
   "encoding": {"x": {"datum": -12.5, "type": "quantitative", "scale": {"domain": [0, 168], "nice": false, "zero": false}, "axis": {"orient": "bottom", "values": [0, 24, 48, 72, 96, 120, 144, 168], "ticks": false, "domain": false, "grid": false, "labelExpr": "'Apr ' + (10 + datum.value / 24)", "labelFlush": false, "labelOverlap": false, "labelPadding": 4, "title": null}},
    "y": {"datum": 0.5, "type": "quantitative", "scale": {"domain": [0, 1], "nice": false, "zero": false}, "axis": null}}},
  {"data": {"values": [{}]}, "mark": {"type": "text", "text": "2020-04-10", "align": "center", "baseline": "middle", "fontSize": 13, "dy": 7, "color": "#000"},
   "encoding": {"x": {"datum": -13.1, "type": "quantitative", "scale": {"domain": [0, 168], "nice": false, "zero": false}, "axis": null},
    "y": {"datum": 0.5, "type": "quantitative", "scale": {"domain": [0, 1], "nice": false, "zero": false}, "axis": null}}},
  {"data": {"values": [{}]}, "mark": {"type": "text", "text": "00:00:00", "align": "center", "baseline": "middle", "fontSize": 16, "fontWeight": "bold", "dy": 19, "color": "#000"},
   "encoding": {"x": {"datum": -10.7, "type": "quantitative", "scale": {"domain": [0, 168], "nice": false, "zero": false}, "axis": null},
    "y": {"datum": 0.5, "type": "quantitative", "scale": {"domain": [0, 1], "nice": false, "zero": false}, "axis": null}}}
 ],
 "resolve": {"axis": {"x": "independent"}}
}
]
}
